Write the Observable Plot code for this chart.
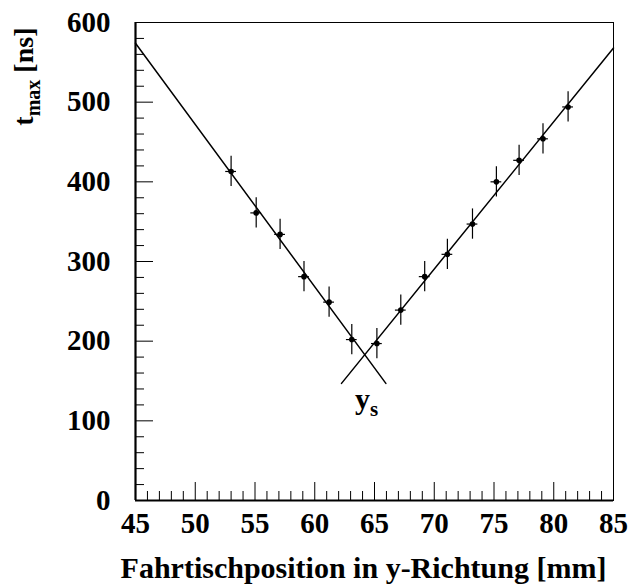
<!DOCTYPE html>
<html>
<head>
<meta charset="utf-8">
<script src="https://cdn.jsdelivr.net/npm/d3@7"></script>
<script src="https://cdn.jsdelivr.net/npm/@observablehq/plot@0.6"></script>
<style>
  html, body { margin: 0; padding: 0; background: #fff; }
  #chart svg text { font-family: "Liberation Serif", serif; }
</style>
</head>
<body>
<div id="chart"></div>
<script>
// Measured data points (table position in mm, t_max in ns)
const posMM = [53.0, 55.1, 57.1, 59.1, 61.2, 63.1, 65.2, 67.2, 69.2, 71.1, 73.2, 75.2, 77.1, 79.1, 81.2];
const tMax  = [413, 361, 334, 281, 249, 202, 197, 239, 281, 309, 347, 400, 427, 454, 494];
const tErr  = [19, 19, 19, 19, 19, 19, 19, 19, 19, 19, 19, 19, 19, 19, 19];
const posErr = [0.45, 0.45, 0.45, 0.45, 0.45, 0.45, 0.45, 0.45, 0.45, 0.45, 0.45, 0.45, 0.45, 0.45, 0.45];

// Fitted lines (end points)
const fitLeftX  = [45, 65.95];
const fitLeftY  = [574, 147];
const fitRightX = [62.24, 85];
const fitRightY = [147, 568];

// Intersection label
const ysLabelX = [64.33];
const ysLabelY = [115];

// Ticks
const xMajor = [45, 50, 55, 60, 65, 70, 75, 80, 85];
const xMinor = [46, 47, 48, 49, 51, 52, 53, 54, 56, 57, 58, 59, 61, 62, 63, 64, 66, 67, 68, 69, 71, 72, 73, 74, 76, 77, 78, 79, 81, 82, 83, 84];
const yMajor = [0, 100, 200, 300, 400, 500, 600];
const yMinor = [20, 40, 60, 80, 120, 140, 160, 180, 220, 240, 260, 280, 320, 340, 360, 380, 420, 440, 460, 480, 520, 540, 560, 580];

const xTitle = "Fahrtischposition in y-Richtung [mm]";
const yTitle = "tmax [ns]";

const data = posMM.map((x, i) => ({x, t: tMax[i], et: tErr[i], ex: posErr[i]}));
const fitLeft = fitLeftX.map((x, i) => ({x, y: fitLeftY[i]}));
const fitRight = fitRightX.map((x, i) => ({x, y: fitRightY[i]}));

const W = 632, H = 585;
const mL = 135, mR = 19, mT = 22, mB = 85;
const frameW = W - mL - mR, frameH = H - mT - mB;
const xDom = [45, 85], yDom = [0, 600];
// tick lengths in pixels converted to data units
const ux = (xDom[1] - xDom[0]) / frameW;
const uy = (yDom[1] - yDom[0]) / frameH;

const font = "Liberation Serif";

const svg = Plot.plot({
  width: W,
  height: H,
  marginLeft: mL,
  marginRight: mR,
  marginTop: mT,
  marginBottom: mB,
  x: {domain: xDom, axis: null},
  y: {domain: yDom, axis: null},
  marks: [
    Plot.frame({stroke: "#000", strokeWidth: 1}),
    Plot.ruleX(xMajor, {x: d => d, y1: yDom[0], y2: yDom[0] + 18 * uy, stroke: "#000", strokeWidth: 1}),
    Plot.ruleX(xMinor, {x: d => d, y1: yDom[0], y2: yDom[0] + 9 * uy, stroke: "#000", strokeWidth: 1}),
    Plot.ruleY(yMajor, {y: d => d, x1: xDom[0], x2: xDom[0] + 18 * ux, stroke: "#000", strokeWidth: 1}),
    Plot.ruleY(yMinor, {y: d => d, x1: xDom[0], x2: xDom[0] + 9 * ux, stroke: "#000", strokeWidth: 1}),
    Plot.ruleX([xDom[0]], {strokeWidth: 2.2, stroke: "#000"}),
    Plot.ruleY([yDom[0]], {strokeWidth: 2.2, stroke: "#000"}),
    Plot.axisX({ticks: xMajor, tickSize: 0, tickPadding: 12, label: null, tickFormat: d => String(d), fontSize: 29, fontWeight: "bold", fontFamily: font}),
    Plot.axisY({ticks: yMajor, tickSize: 0, tickPadding: 25, label: null, tickFormat: d => String(d), fontSize: 29, fontWeight: "bold", fontFamily: font}),
    Plot.line(fitLeft, {x: "x", y: "y", stroke: "#000", strokeWidth: 1.5}),
    Plot.line(fitRight, {x: "x", y: "y", stroke: "#000", strokeWidth: 1.5}),
    Plot.ruleX(data, {x: "x", y1: d => d.t - d.et, y2: d => d.t + d.et, stroke: "#000", strokeWidth: 1.2}),
    Plot.ruleY(data, {y: "t", x1: d => d.x - d.ex, x2: d => d.x + d.ex, stroke: "#000", strokeWidth: 1.2}),
    Plot.dot(data, {x: "x", y: "t", r: 2.8, fill: "#000", stroke: null}),
    Plot.text(ysLabelX.map((x, i) => ({x, y: ysLabelY[i]})), {x: "x", y: "y", text: () => "ys", lineAnchor: "bottom", textAnchor: "middle", fontSize: 30, fontWeight: "bold", fontFamily: font}),
    Plot.text([xTitle], {text: d => d, frameAnchor: "bottom", dx: -11, dy: 77, lineAnchor: "bottom", textAnchor: "middle", fontSize: 30, fontWeight: "bold", fontFamily: font}),
    Plot.text([yTitle], {text: d => d, frameAnchor: "top-left", dx: -103, dy: 5, rotate: -90, lineAnchor: "bottom", textAnchor: "end", fontSize: 28, fontWeight: "bold", fontFamily: font})
  ]
});

// subscripts
d3.select(svg).selectAll("text").each(function() {
  const sel = d3.select(this);
  const txt = this.textContent;
  if (txt === "ys") {
    sel.text(null);
    sel.append("tspan").text("y");
    sel.append("tspan").attr("font-size", "21px").attr("dy", "7").text("s");
  } else if (txt === yTitle) {
    sel.text(null);
    sel.append("tspan").text("t");
    sel.append("tspan").attr("font-size", "20px").attr("dy", "7").text("max");
    sel.append("tspan").attr("dy", "-7").text(" [ns]");
  }
});

document.getElementById("chart").appendChild(svg);
</script>
</body>
</html>
